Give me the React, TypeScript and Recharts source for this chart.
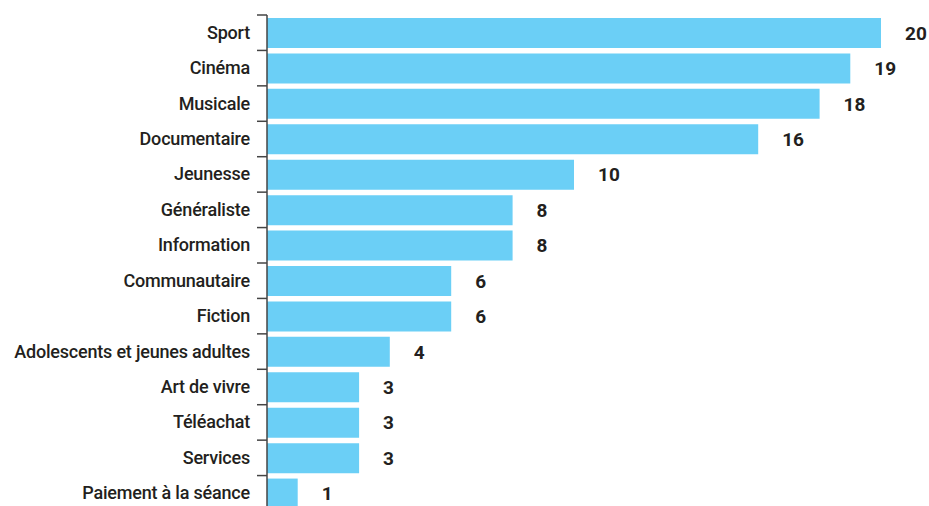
import { BarChart, Bar, XAxis, YAxis, LabelList } from 'recharts';

const categories = [
  'Sport',
  'Cinéma',
  'Musicale',
  'Documentaire',
  'Jeunesse',
  'Généraliste',
  'Information',
  'Communautaire',
  'Fiction',
  'Adolescents et jeunes adultes',
  'Art de vivre',
  'Téléachat',
  'Services',
  'Paiement à la séance',
];
const values = [20, 19, 18, 16, 10, 8, 8, 6, 6, 4, 3, 3, 3, 1];

const data = categories.map((name, i) => ({ name, value: values[i] }));

const AXIS_W = 267;
const FONT = 'Roboto, sans-serif';
const INK = '#231f20';

// category label + a short tick on the band's upper boundary
const CategoryTick = (props: any) => {
  const { y, payload } = props;
  const half = payload && payload.offset ? payload.offset : 17.7;
  return (
    <g>
      <line x1={AXIS_W - 10} x2={AXIS_W} y1={y - half} y2={y - half} stroke="#444" strokeWidth={1.5} />
      <text
        x={AXIS_W - 17}
        y={y}
        dy={6}
        textAnchor="end"
        fill={INK}
        fontFamily={FONT}
        fontWeight={500}
        fontSize={18}
        letterSpacing={-0.2}
      >
        {payload.value}
      </text>
    </g>
  );
};

const App = () => {
  return (
    <div>
      <style>{'html, body { margin: 0; overflow: hidden; }'}</style>
      <BarChart
        width={929}
        height={506}
        data={data}
        layout="vertical"
        margin={{ top: 15, right: 48, bottom: -5, left: 0 }}
      >
        <XAxis type="number" domain={[0, 20]} hide />
        <YAxis
          type="category"
          dataKey="name"
          width={AXIS_W}
          axisLine={{ stroke: '#444', strokeWidth: 1.5 }}
          tickLine={false}
          tick={<CategoryTick />}
          interval={0}
        />
        <Bar dataKey="value" fill="#6bcff6" barSize={30} isAnimationActive={false}>
          <LabelList
            dataKey="value"
            position="right"
            offset={24}
            fill={INK}
            fontFamily={FONT}
            fontWeight={700}
            fontSize={19}
          />
        </Bar>
      </BarChart>
    </div>
  );
};

export default App;
